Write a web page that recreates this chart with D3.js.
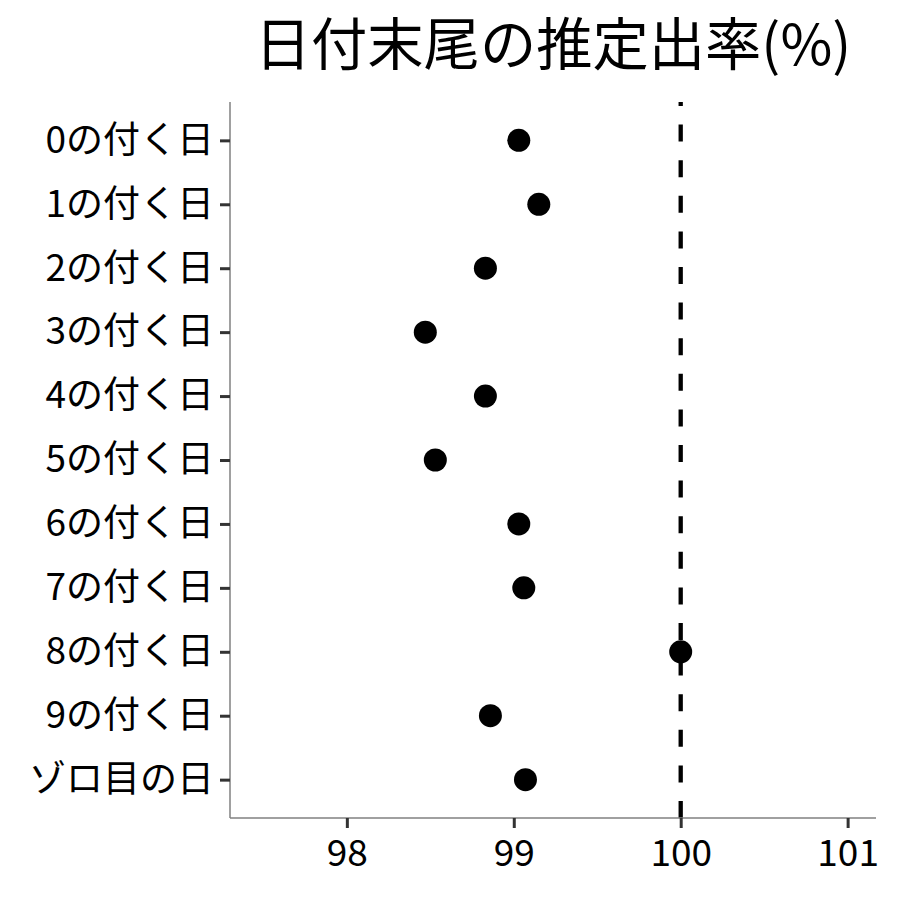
<!DOCTYPE html>
<html>
<head>
<meta charset="utf-8">
<script src="https://cdn.jsdelivr.net/npm/d3@7"></script>
<style>
  body { margin: 0; background: #fff; }
  svg { font-family: "Noto Sans CJK JP", sans-serif; }
</style>
</head>
<body>
<svg id="chart" width="900" height="900"></svg>
<script>
// categories (top to bottom) and estimated rates
const categories = ["0の付く日", "1の付く日", "2の付く日", "3の付く日", "4の付く日",
    "5の付く日", "6の付く日", "7の付く日", "8の付く日", "9の付く日", "ゾロ目の日"];
const rates = [99.03, 99.15, 98.83, 98.47, 98.83, 98.53, 99.03, 99.06, 100.0, 98.86, 99.07];
const xTicks = [98, 99, 100, 101];
const refValue = 100;
const title = "日付末尾の推定出率(%)";

const panel = { left: 230, right: 876, top: 102, bottom: 818 };

const svg = d3.select("#chart");

const x = d3.scaleLinear()
    .domain([97.30, 101.17])
    .range([panel.left, panel.right]);

const y = d3.scalePoint()
    .domain(categories)
    .range([panel.top, panel.bottom])
    .padding(0.6);

// title
svg.append("text")
    .attr("x", (panel.left + panel.right) / 2)
    .attr("y", 65)
    .attr("text-anchor", "middle")
    .attr("font-size", 56.3)
    .attr("fill", "#000")
    .text(title);

// reference line
svg.append("line")
    .attr("x1", x(refValue)).attr("x2", x(refValue))
    .attr("y1", panel.bottom).attr("y2", panel.top)
    .attr("stroke", "#000")
    .attr("stroke-width", 4.3)
    .attr("stroke-dasharray", "17,18.6");

// x axis
const xAxis = svg.append("g")
    .attr("transform", `translate(0,${panel.bottom})`)
    .call(d3.axisBottom(x).tickValues(xTicks).tickFormat(d3.format("d"))
        .tickSize(10).tickSizeOuter(0).tickPadding(12));

// y axis
const yAxis = svg.append("g")
    .attr("transform", `translate(${panel.left},0)`)
    .call(d3.axisLeft(y).tickSize(10).tickSizeOuter(0).tickPadding(6));

[xAxis, yAxis].forEach(g => {
    g.select(".domain").attr("stroke", "#808080").attr("stroke-width", 1.5);
    g.selectAll(".tick line").attr("stroke", "#333").attr("stroke-width", 3);
    g.selectAll(".tick text")
        .attr("font-family", "'Noto Sans CJK JP', sans-serif")
        .attr("font-size", 37)
        .attr("fill", "#000");
});
// x axis domain runs the full panel width
xAxis.select(".domain").attr("d", `M${panel.left},0H${panel.right}`);
yAxis.select(".domain").attr("d", `M0,${panel.top}V${panel.bottom}`);

// points
svg.append("g")
    .selectAll("circle")
    .data(categories)
    .join("circle")
    .attr("cx", (d, i) => x(rates[i]))
    .attr("cy", d => y(d))
    .attr("r", 11.5)
    .attr("fill", "#000");
</script>
</body>
</html>
